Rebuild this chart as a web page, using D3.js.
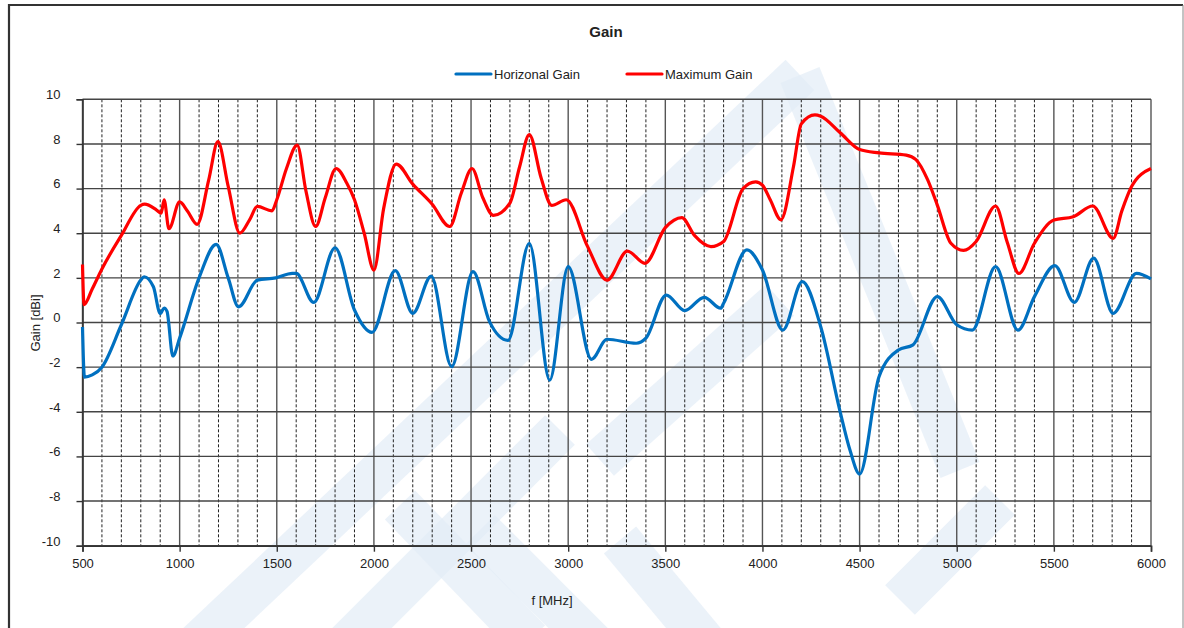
<!DOCTYPE html>
<html>
<head>
<meta charset="utf-8">
<script src="https://cdn.jsdelivr.net/npm/d3@7"></script>
<style>
  body { margin: 0; background: #fff; }
  text { font-family: "Liberation Sans Narrow", "Arial Narrow", "Liberation Sans", Arial, sans-serif; fill: #222; }
</style>
</head>
<body>
<div id="chart"></div>
<script>
// chart size
var width = 1184;
var height = 628;

// data (frequency in MHz, gain in dBi)
var horizFreq = [500, 510, 550, 600, 700, 800, 817, 865, 900, 920, 935, 965, 1000, 1100, 1188, 1250, 1303, 1400, 1495, 1580,
  1600, 1690, 1800, 1900, 1990, 2110, 2200, 2295, 2400, 2510, 2595, 2690, 2800, 2905, 3000, 3120, 3200, 3350, 3400, 3505,
  3600, 3700, 3785, 3800, 3920, 4000, 4105, 4205, 4300, 4400, 4450, 4500, 4600, 4700, 4775, 4900, 5000, 5080, 5200, 5315,
  5400, 5505, 5605, 5705, 5805, 5925, 6000];
var horizGain = [-0.2, -2.45, -2.35, -2.0, -0.1, 1.9, 2.05, 1.6, 0.4, 0.65, 0.5, -1.5, -0.7, 2.0, 3.5, 2.0, 0.7, 1.9, 2.0, 2.2,
  2.2, 0.9, 3.35, 0.56, -0.44, 2.32, 0.41, 2.08, -1.98, 2.28, 0.04, -0.8, 3.55, -2.58, 2.5, -1.65, -0.75, -0.93, -0.7, 1.23,
  0.53, 1.13, 0.64, 0.86, 3.25, 2.35, -0.34, 1.83, -0.19, -4.0, -5.7, -6.79, -2.43, -1.23, -1.0, 1.16, -0.1, -0.34, 2.5, -0.34,
  1.16, 2.55, 0.9, 2.88, 0.41, 2.2, 1.95];

var maxFreq = [500, 508, 550, 600, 700, 800, 820, 880, 905, 920, 945, 1000, 1040, 1090, 1150, 1197, 1250, 1310, 1360, 1400,
  1475, 1500, 1550, 1605, 1650, 1700, 1750, 1805, 1860, 1900, 1950, 2000, 2050, 2115, 2200, 2300, 2390, 2450, 2505, 2560,
  2615, 2700, 2750, 2800, 2860, 2915, 2990, 3100, 3200, 3305, 3395, 3500, 3585, 3650, 3735, 3800, 3900, 3965, 4000, 4040,
  4095, 4160, 4200, 4270, 4300, 4400, 4500, 4600, 4740, 4790, 4850, 4900, 4970, 5035, 5100, 5200, 5260, 5320, 5400, 5500,
  5600, 5700, 5805, 5850, 5900, 6000];
var maxGain = [2.6, 0.8, 1.5, 2.4, 3.9, 5.25, 5.3, 5.05, 4.9, 5.5, 4.2, 5.4, 5.0, 4.4, 6.4, 8.1, 6.1, 4.0, 4.6, 5.2,
  5.0, 5.5, 6.9, 7.95, 5.9, 4.3, 5.6, 6.9, 6.25, 5.5, 4.0, 2.35, 5.1, 7.1, 6.2, 5.3, 4.3, 5.8, 6.9, 5.6,
  4.8, 5.35, 6.98, 8.42, 6.5, 5.25, 5.5, 3.4, 1.9, 3.2, 2.65, 4.25, 4.7, 3.9, 3.4, 3.63, 6.0, 6.3, 6.15, 5.5,
  4.6, 7.0, 8.9, 9.3, 9.24, 8.5, 7.75, 7.6, 7.5, 7.3, 6.4, 5.26, 3.55, 3.23, 3.63, 5.22, 3.6, 2.2, 3.55, 4.59,
  4.74, 5.22, 3.77, 5.0, 6.09, 6.9];

var seriesNames = ["Horizonal Gain", "Maximum Gain"];
var seriesColors = ["#0070c0", "#ff0000"];

var yTicks = [-10, -8, -6, -4, -2, 0, 2, 4, 6, 8, 10];
var xTicks = [500, 1000, 1500, 2000, 2500, 3000, 3500, 4000, 4500, 5000, 5500, 6000];

// append the svg object to the body of the page
var svg = d3.select("#chart")
  .append("svg")
    .attr("width", width)
    .attr("height", height);

var x = d3.scaleLinear().domain([500, 6000]).range([82.5, 1151]);
var y = d3.scaleLinear().domain([-10, 10]).range([545.7, 99.3]);

// faint watermark bands behind the plot
var wm = svg.append("g")
  .attr("stroke", "#e3ecf6")
  .attr("stroke-opacity", 0.7)
  .attr("fill", "none")
  .attr("stroke-linecap", "butt");
[
  [[180, 660], [800, 75]],
  [[800, 75], [960, 470]],
  [[330, 660], [560, 430]],
  [[400, 505], [530, 640]],
  [[480, 530], [610, 660]],
  [[620, 540], [720, 660]],
  [[600, 460], [780, 300]],
  [[900, 600], [1000, 500]]
].forEach(function (seg) {
  wm.append("line")
    .attr("x1", seg[0][0]).attr("y1", seg[0][1])
    .attr("x2", seg[1][0]).attr("y2", seg[1][1])
    .attr("stroke-width", 42);
});

// outer frame
svg.append("path")
  .attr("d", "M9,640 V5 H1183")
  .attr("fill", "none")
  .attr("stroke", "#333")
  .attr("stroke-width", 2.2);
svg.append("line")
  .attr("x1", 1183).attr("y1", 5).attr("x2", 1183).attr("y2", 640)
  .attr("stroke", "#888").attr("stroke-width", 1);

// grid
var grid = svg.append("g");
d3.range(600, 6000, 100).filter(function (f) { return f % 500 !== 0; }).forEach(function (f) {
  grid.append("line")
    .attr("x1", x(f)).attr("x2", x(f))
    .attr("y1", y(10)).attr("y2", y(-10))
    .attr("stroke", "#222")
    .attr("stroke-width", 1)
    .attr("stroke-dasharray", "3,2");
});
xTicks.forEach(function (f) {
  grid.append("line")
    .attr("x1", x(f)).attr("x2", x(f))
    .attr("y1", y(10)).attr("y2", y(-10))
    .attr("stroke", "#555")
    .attr("stroke-width", 1.4);
});
yTicks.forEach(function (g) {
  grid.append("line")
    .attr("x1", x(500)).attr("x2", x(6000))
    .attr("y1", y(g)).attr("y2", y(g))
    .attr("stroke", "#444")
    .attr("stroke-width", 1.4);
});

// axes (plain hyphen minus like the original)
var plain = function (d) { return String(d); };
var yAxis = svg.append("g")
  .attr("transform", "translate(" + x(500) + ",0)")
  .call(d3.axisLeft(y).tickValues(yTicks).tickSize(6).tickPadding(16).tickFormat(plain));
var xAxis = svg.append("g")
  .attr("transform", "translate(0," + y(-10) + ")")
  .call(d3.axisBottom(x).tickValues(xTicks).tickSize(6).tickPadding(7).tickFormat(plain));
[yAxis, xAxis].forEach(function (a) {
  a.select(".domain").attr("stroke", "#333").attr("stroke-width", 1.6);
  a.selectAll(".tick line").attr("stroke", "#333").attr("stroke-width", 1.4);
  a.selectAll(".tick text").style("font-size", "13px").attr("fill", "#222");
});
yAxis.selectAll(".tick text").attr("dy", "-0.05em");

// lines
var line = d3.line()
  .x(function (d) { return x(d[0]); })
  .y(function (d) { return y(d[1]); })
  .curve(d3.curveMonotoneX);

var series = [
  d3.zip(horizFreq, horizGain),
  d3.zip(maxFreq, maxGain)
];
series.forEach(function (pts, i) {
  svg.append("path")
    .datum(pts)
    .attr("fill", "none")
    .attr("stroke", seriesColors[i])
    .attr("stroke-width", 3.2)
    .attr("stroke-linejoin", "round")
    .attr("d", line);
});

// title
svg.append("text")
  .attr("x", 606).attr("y", 37)
  .attr("text-anchor", "middle")
  .style("font-size", "15px")
  .style("font-weight", "bold")
  .text("Gain");

// legend
var legendX = [456, 627];
seriesNames.forEach(function (name, i) {
  svg.append("line")
    .attr("x1", legendX[i]).attr("x2", legendX[i] + 35)
    .attr("y1", 74).attr("y2", 74)
    .attr("stroke", seriesColors[i])
    .attr("stroke-width", 3.2)
    .attr("stroke-linecap", "round");
  svg.append("text")
    .attr("x", legendX[i] + 38).attr("y", 76)
    .attr("dy", "0.25em")
    .style("font-size", "13px")
    .text(name);
});

// axis titles
svg.append("text")
  .attr("transform", "translate(40,323) rotate(-90)")
  .attr("text-anchor", "middle")
  .style("font-size", "13px")
  .text("Gain [dBi]");
svg.append("text")
  .attr("x", 552).attr("y", 605)
  .attr("text-anchor", "middle")
  .style("font-size", "13px")
  .text("f [MHz]");
</script>
</body>
</html>
